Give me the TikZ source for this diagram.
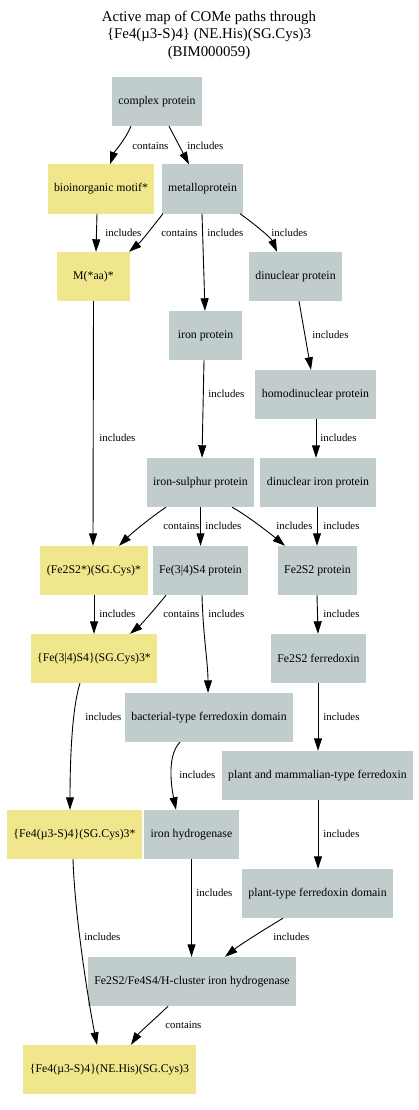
\documentclass[tikz,border=0pt]{standalone}
\usepackage{fontspec}
\setmainfont{Liberation Serif}
\usepackage{tikz}
\usetikzlibrary{positioning, arrows.meta}
\definecolor{NodeGray}{RGB}{193, 205, 205}
\definecolor{MotifYellow}{RGB}{240, 230, 140}

\begin{document}
\begin{tikzpicture}[x=1pt, y=-1pt,
      cls/.style={rectangle, fill=NodeGray, inner xsep=6.5pt, inner ysep=0pt, minimum width=73pt,
      minimum height=49pt, font=\fontsize{11.8}{14}\selectfont},
      motif/.style={cls, fill=MotifYellow},
      link/.style={-{Triangle[length=12.5pt, width=8pt]}, line width=0.9pt},
      rel/.style={anchor=west, inner sep=0pt, font=\fontsize{10.8}{12}\selectfont}
    ]
      \useasboundingbox (0,0) rectangle (418,1110);
      \node[align=center, font=\fontsize{14.85}{17.5}\selectfont] (title) at (209,35)
        {Active map of COMe paths through\\ \{Fe4(µ3-S)4\} (NE.His)(SG.Cys)3\\ (BIM000059)};

      % nodes
      \node[cls] (cp) at (157,101.5) {complex protein};
      \node[motif] (bm) at (101,189) {bioinorganic motif*};
      \node[cls] (mp) at (202.5,189) {metalloprotein};
      \node[motif] (maa) at (93.5,276.5) {M(*aa)*};
      \node[cls] (dp) at (295.5,276.5) {dinuclear protein};
      \node[cls] (ip) at (205.5,335.5) {iron protein};
      \node[cls] (hdp) at (315.5,394.5) {homodinuclear protein};
      \node[cls] (isp) at (200.5,482.5) {iron-sulphur protein};
      \node[cls] (dip) at (318,482.5) {dinuclear iron protein};
      \node[motif] (fsc) at (94,570.5) {(Fe2S2*)(SG.Cys)*};
      \node[cls] (f34p) at (200.5,570.5) {Fe(3|4)S4 protein};
      \node[cls] (f22p) at (317.5,570.5) {Fe2S2 protein};
      \node[motif] (f34c) at (94,658.5) {\{Fe(3|4)S4\}(SG.Cys)3*};
      \node[cls] (f22fd) at (318.5,658.5) {Fe2S2 ferredoxin};
      \node[cls] (btfd) at (209,717.5) {bacterial-type ferredoxin domain};
      \node[cls] (pmfd) at (317.5,775.5) {plant and mammalian-type ferredoxin};
      \node[motif] (f4c) at (74.5,834.5) {\{Fe4(µ3-S)4\}(SG.Cys)3*};
      \node[cls] (ih) at (191.5,834.5) {iron hydrogenase};
      \node[cls] (ptfd) at (317.5,893.5) {plant-type ferredoxin domain};
      \node[cls] (hcih) at (192,981.5) {Fe2S2/Fe4S4/H-cluster iron hydrogenase};
      \node[motif] (bim) at (109.5,1069.5) {\{Fe4(µ3-S)4\}(NE.His)(SG.Cys)3};

      % links
      \draw[link] ([xshift=-26pt]cp.south) .. controls +(-6,14) and +(4,-12) .. ([xshift=9pt]bm.north)
        node[rel] at (132,146) {contains};
      \draw[link] ([xshift=12pt]cp.south) -- ([xshift=-13.5pt]mp.north) node[rel] at (187,146) {includes};
      \draw[link] ([xshift=-4pt]bm.south) -- ([xshift=2.5pt]maa.north) node[rel] at (105,233) {includes};
      \draw[link] ([xshift=-39.5pt]mp.south) .. controls +(-8,10) and +(12,-10) .. ([xshift=35.5pt]maa.north)
        node[rel] at (161,233) {contains};
      \draw[link] ([xshift=-0.5pt]mp.south) -- ([xshift=-0.5pt]ip.north) node[rel] at (207,233) {includes};
      \draw[link] ([xshift=37.5pt]mp.south) .. controls +(14,10) and +(-6,-14) .. ([xshift=-18.5pt]dp.north)
        node[rel] at (271,233) {includes};
      \draw[link] (maa.south) -- ([xshift=-1pt]fsc.north) node[rel] at (99,438) {includes};
      \draw[link] ([xshift=-1.5pt]ip.south) -- ([xshift=1.5pt]isp.north) node[rel] at (208,394) {includes};
      \draw[link] ([xshift=3.5pt]dp.south) -- ([xshift=-4.5pt]hdp.north) node[rel] at (312,335) {includes};
      \draw[link] ([xshift=0.5pt]hdp.south) -- ([xshift=-2pt]dip.north) node[rel] at (320,438) {includes};
      \draw[link] ([xshift=-34.5pt]isp.south) .. controls +(-15,10) and +(12,-12) .. ([xshift=25pt]fsc.north)
        node[rel] at (163,526) {contains};
      \draw[link] (isp.south) -- (f34p.north) node[rel] at (205,526) {includes};
      \draw[link] ([xshift=31.5pt]isp.south) .. controls +(15,8) and +(-12,-10) .. ([xshift=-32.5pt]f22p.north)
        node[rel] at (276,526) {includes};
      \draw[link] ([xshift=-1pt]dip.south) -- ([xshift=-0.5pt]f22p.north) node[rel] at (323,526) {includes};
      \draw[link] (fsc.south) -- (f34c.north) node[rel] at (99,614) {includes};
      \draw[link] ([xshift=-34.5pt]f34p.south) .. controls +(-8,10) and +(12,-10) .. ([xshift=36pt]f34c.north)
        node[rel] at (163,614) {contains};
      \draw[link] ([xshift=1.5pt]f34p.south) .. controls +(1,40) and +(0,-30) .. ([xshift=-1pt]btfd.north)
        node[rel] at (208,614) {includes};
      \draw[link] ([xshift=-0.5pt]f22p.south) -- ([xshift=-0.5pt]f22fd.north) node[rel] at (323,614) {includes};
      \draw[link] ([xshift=-14pt]f34c.south) .. controls +(-8,25) and +(0,-50) .. ([xshift=-4.5pt]f4c.north)
        node[rel] at (85,717) {includes};
      \draw[link] ([xshift=-29pt]btfd.south) .. controls +(-14,14) and +(-4,-20) .. ([xshift=-15.5pt]ih.north)
        node[rel] at (179,775) {includes};
      \draw[link] ([xshift=-0.5pt]f22fd.south) -- ([xshift=0.5pt]pmfd.north) node[rel] at (323,717) {includes};
      \draw[link] ([xshift=0.5pt]pmfd.south) -- ([xshift=0.5pt]ptfd.north) node[rel] at (323,834) {includes};
      \draw[link] ([xshift=-1.5pt]f4c.south) .. controls +(2,60) and +(-8,-40) .. ([xshift=-12.5pt]bim.north)
        node[rel] at (84,937) {includes};
      \draw[link] (ih.south) -- ([xshift=-0.5pt]hcih.north) node[rel] at (196,893) {includes};
      \draw[link] ([xshift=-34.5pt]ptfd.south) .. controls +(-20,12) and +(15,-12) .. ([xshift=33pt]hcih.north)
        node[rel] at (273,937) {includes};
      \draw[link] ([xshift=-24pt]hcih.south) .. controls +(-8,8) and +(8,-12) .. ([xshift=21.5pt]bim.north)
        node[rel] at (165,1025) {contains};
    \end{tikzpicture}
\end{document}
